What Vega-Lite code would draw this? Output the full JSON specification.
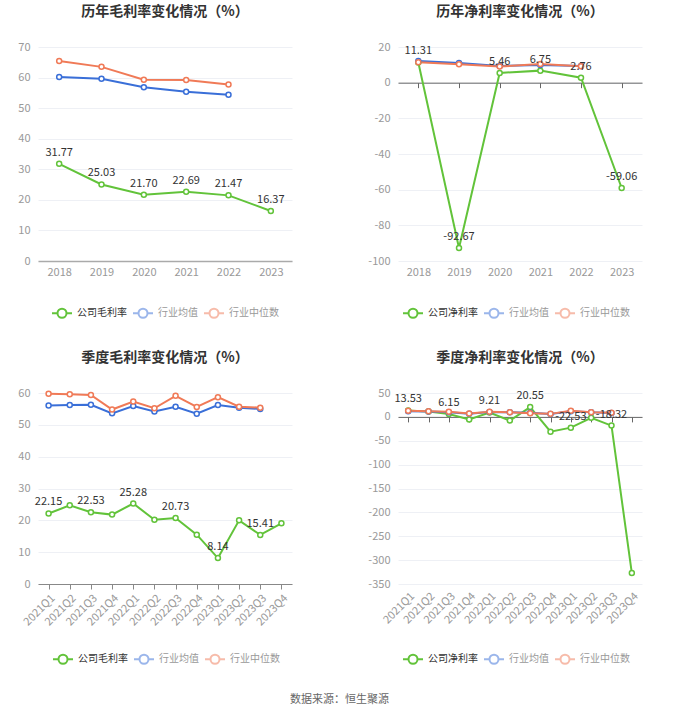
{
  "$schema": "https://vega.github.io/schema/vega-lite/v6.json",
  "padding": {"left": 17, "top": 5, "right": 5, "bottom": 5},
  "background": "white",
  "config": {
    "font": "Noto Sans CJK SC",
    "locale": {"number": {"decimal": ".", "thousands": ",", "grouping": [3], "currency": ["", ""], "minus": "-"}},
    "view": {"stroke": null},
    "axis": {"labelColor": "#999", "labelFontSize": 11, "labelFont": "Noto Sans CJK SC", "labelOverlap": false, "labelBound": false, "labelFlush": false},
    "axisY": {"labelOverlap": false},
    "axisQuantitative": {"labelOverlap": false},
    "title": {"fontSize": 14, "fontWeight": "bold", "color": "#333", "font": "Noto Sans CJK SC"},
    "legend": {"labelFont": "Noto Sans CJK SC"}
  },
  "datasets": {
    "annual_gross": [
      {"period": "2018", "series": "公司毛利率", "value": 31.77},
      {"period": "2019", "series": "公司毛利率", "value": 25.03},
      {"period": "2020", "series": "公司毛利率", "value": 21.70},
      {"period": "2021", "series": "公司毛利率", "value": 22.69},
      {"period": "2022", "series": "公司毛利率", "value": 21.47},
      {"period": "2023", "series": "公司毛利率", "value": 16.37},
      {"period": "2018", "series": "行业均值", "value": 60.2},
      {"period": "2019", "series": "行业均值", "value": 59.6},
      {"period": "2020", "series": "行业均值", "value": 56.8},
      {"period": "2021", "series": "行业均值", "value": 55.4},
      {"period": "2022", "series": "行业均值", "value": 54.4},
      {"period": "2018", "series": "行业中位数", "value": 65.4},
      {"period": "2019", "series": "行业中位数", "value": 63.5},
      {"period": "2020", "series": "行业中位数", "value": 59.3},
      {"period": "2021", "series": "行业中位数", "value": 59.2},
      {"period": "2022", "series": "行业中位数", "value": 57.7}
    ],
    "annual_net": [
      {"period": "2018", "series": "公司净利率", "value": 11.31},
      {"period": "2019", "series": "公司净利率", "value": -92.67},
      {"period": "2020", "series": "公司净利率", "value": 5.46},
      {"period": "2021", "series": "公司净利率", "value": 6.75},
      {"period": "2022", "series": "公司净利率", "value": 2.76},
      {"period": "2023", "series": "公司净利率", "value": -59.06},
      {"period": "2018", "series": "行业均值", "value": 12.1},
      {"period": "2019", "series": "行业均值", "value": 11.0},
      {"period": "2020", "series": "行业均值", "value": 9.3},
      {"period": "2021", "series": "行业均值", "value": 9.9},
      {"period": "2022", "series": "行业均值", "value": 9.3},
      {"period": "2018", "series": "行业中位数", "value": 11.4},
      {"period": "2019", "series": "行业中位数", "value": 10.3},
      {"period": "2020", "series": "行业中位数", "value": 9.0},
      {"period": "2021", "series": "行业中位数", "value": 10.5},
      {"period": "2022", "series": "行业中位数", "value": 9.2}
    ],
    "quarter_gross": [
      {"period": "2021Q1", "series": "公司毛利率", "value": 22.15},
      {"period": "2021Q2", "series": "公司毛利率", "value": 24.7},
      {"period": "2021Q3", "series": "公司毛利率", "value": 22.53},
      {"period": "2021Q4", "series": "公司毛利率", "value": 21.8},
      {"period": "2022Q1", "series": "公司毛利率", "value": 25.28},
      {"period": "2022Q2", "series": "公司毛利率", "value": 20.2},
      {"period": "2022Q3", "series": "公司毛利率", "value": 20.73},
      {"period": "2022Q4", "series": "公司毛利率", "value": 15.5},
      {"period": "2023Q1", "series": "公司毛利率", "value": 8.14},
      {"period": "2023Q2", "series": "公司毛利率", "value": 20.0},
      {"period": "2023Q3", "series": "公司毛利率", "value": 15.41},
      {"period": "2023Q4", "series": "公司毛利率", "value": 19.06},
      {"period": "2021Q1", "series": "行业均值", "value": 56.1},
      {"period": "2021Q2", "series": "行业均值", "value": 56.2},
      {"period": "2021Q3", "series": "行业均值", "value": 56.3},
      {"period": "2021Q4", "series": "行业均值", "value": 53.6},
      {"period": "2022Q1", "series": "行业均值", "value": 55.9},
      {"period": "2022Q2", "series": "行业均值", "value": 54.2},
      {"period": "2022Q3", "series": "行业均值", "value": 55.7},
      {"period": "2022Q4", "series": "行业均值", "value": 53.5},
      {"period": "2023Q1", "series": "行业均值", "value": 56.2},
      {"period": "2023Q2", "series": "行业均值", "value": 55.4},
      {"period": "2023Q3", "series": "行业均值", "value": 55.0},
      {"period": "2021Q1", "series": "行业中位数", "value": 59.8},
      {"period": "2021Q2", "series": "行业中位数", "value": 59.6},
      {"period": "2021Q3", "series": "行业中位数", "value": 59.4},
      {"period": "2021Q4", "series": "行业中位数", "value": 54.8},
      {"period": "2022Q1", "series": "行业中位数", "value": 57.3},
      {"period": "2022Q2", "series": "行业中位数", "value": 55.2},
      {"period": "2022Q3", "series": "行业中位数", "value": 59.1},
      {"period": "2022Q4", "series": "行业中位数", "value": 55.6},
      {"period": "2023Q1", "series": "行业中位数", "value": 58.7},
      {"period": "2023Q2", "series": "行业中位数", "value": 55.7},
      {"period": "2023Q3", "series": "行业中位数", "value": 55.4}
    ],
    "quarter_net": [
      {"period": "2021Q1", "series": "公司净利率", "value": 13.53},
      {"period": "2021Q2", "series": "公司净利率", "value": 11.0},
      {"period": "2021Q3", "series": "公司净利率", "value": 6.15},
      {"period": "2021Q4", "series": "公司净利率", "value": -5.6},
      {"period": "2022Q1", "series": "公司净利率", "value": 9.21},
      {"period": "2022Q2", "series": "公司净利率", "value": -7.7},
      {"period": "2022Q3", "series": "公司净利率", "value": 20.55},
      {"period": "2022Q4", "series": "公司净利率", "value": -31.0},
      {"period": "2023Q1", "series": "公司净利率", "value": -22.53},
      {"period": "2023Q2", "series": "公司净利率", "value": -2.0},
      {"period": "2023Q3", "series": "公司净利率", "value": -18.32},
      {"period": "2023Q4", "series": "公司净利率", "value": -327.0},
      {"period": "2021Q1", "series": "行业均值", "value": 12.0},
      {"period": "2021Q2", "series": "行业均值", "value": 11.0},
      {"period": "2021Q3", "series": "行业均值", "value": 9.5},
      {"period": "2021Q4", "series": "行业均值", "value": 6.5},
      {"period": "2022Q1", "series": "行业均值", "value": 10.0},
      {"period": "2022Q2", "series": "行业均值", "value": 9.5},
      {"period": "2022Q3", "series": "行业均值", "value": 8.5},
      {"period": "2022Q4", "series": "行业均值", "value": 6.0},
      {"period": "2023Q1", "series": "行业均值", "value": 12.0},
      {"period": "2023Q2", "series": "行业均值", "value": 9.5},
      {"period": "2023Q3", "series": "行业均值", "value": 8.0},
      {"period": "2021Q1", "series": "行业中位数", "value": 12.7},
      {"period": "2021Q2", "series": "行业中位数", "value": 12.0},
      {"period": "2021Q3", "series": "行业中位数", "value": 10.6},
      {"period": "2021Q4", "series": "行业中位数", "value": 7.0},
      {"period": "2022Q1", "series": "行业中位数", "value": 10.6},
      {"period": "2022Q2", "series": "行业中位数", "value": 9.9},
      {"period": "2022Q3", "series": "行业中位数", "value": 7.7},
      {"period": "2022Q4", "series": "行业中位数", "value": 6.3},
      {"period": "2023Q1", "series": "行业中位数", "value": 12.7},
      {"period": "2023Q2", "series": "行业中位数", "value": 9.9},
      {"period": "2023Q3", "series": "行业中位数", "value": 8.5}
    ]
  },
  "title": {"text": "数据来源：恒生聚源", "orient": "bottom", "anchor": "start", "frame": "group", "dx": 252, "fontSize": 11, "fontWeight": "normal", "color": "#666", "offset": 26},
  "bounds": "flush",
  "columns": 2,
  "spacing": {"row": 132, "column": 106},
  "resolve": {"scale": {"color": "independent"}, "legend": {"color": "independent"}},
  "concat": [
    {
      "width": 254, "height": 214,
      "title": {"text": "历年毛利率变化情况（%）", "offset": 22},
      "data": {"name": "annual_gross"},
      "layer": [
        {
          "mark": {"type": "line", "strokeWidth": 2, "point": {"filled": false, "fill": "white", "size": 25, "strokeWidth": 1.5}},
          "encoding": {
            "x": {"field": "period", "type": "ordinal", "axis": {"title": null, "labelAngle": 0, "domain": true, "domainColor": "#aaa", "domainWidth": 1.5, "ticks": false, "labelPadding": 5, "grid": false}},
            "y": {"field": "value", "type": "quantitative", "scale": {"domain": [0, 70], "nice": false}, "axis": {"title": null, "values": [0, 10, 20, 30, 40, 50, 60, 70], "labelOverlap": false, "grid": true, "gridColor": "#eef0f5", "domain": false, "ticks": false, "labelPadding": 8}},
            "color": {"field": "series", "type": "nominal", "scale": {"domain": ["公司毛利率", "行业均值", "行业中位数"], "range": ["#62c33a", "#3a6fd8", "#f07a57"]},
              "legend": {"title": null, "orient": "none", "legendX": 13, "legendY": 255, "direction": "horizontal", "symbolType": "M-1,0L-0.45,0M0.45,0L1,0M0.45,0A0.45,0.45,0,1,1,-0.45,0A0.45,0.45,0,1,1,0.45,0", "symbolSize": 400, "symbolStrokeWidth": 2, "labelFontSize": 10, "labelOffset": 4, "columnPadding": 2,
                "encode": {"symbols": {"update": {"opacity": {"signal": "datum.index === 0 ? 1 : 0.5"}}}, "labels": {"update": {"fill": {"signal": "datum.index === 0 ? '#333' : '#999'"}}}}}}
          }
        },
        {
          "transform": [{"filter": "datum.series === '公司毛利率'"}],
          "mark": {"type": "text", "dy": -11, "fontSize": 11, "color": "#333"},
          "encoding": {
            "x": {"field": "period", "type": "ordinal"},
            "y": {"field": "value", "type": "quantitative", "axis": {"title": null, "values": [0, 10, 20, 30, 40, 50, 60, 70], "labelOverlap": false, "grid": true, "gridColor": "#eef0f5", "domain": false, "ticks": false, "labelPadding": 8}},
            "text": {"field": "value", "type": "quantitative", "format": ".2f"}
          }
        }
      ]
    },
    {
      "width": 244, "height": 214,
      "title": {"text": "历年净利率变化情况（%）", "offset": 22},
      "data": {"name": "annual_net"},
      "resolve": {"axis": {"x": "independent"}},
      "layer": [
        {
          "mark": {"type": "line", "strokeWidth": 2, "point": {"filled": false, "fill": "white", "size": 25, "strokeWidth": 1.5}},
          "encoding": {
            "x": {"field": "period", "type": "ordinal", "axis": {"title": null, "orient": "bottom", "labelAngle": 0, "domain": false, "ticks": false, "labelPadding": 5, "grid": false}},
            "y": {"field": "value", "type": "quantitative", "scale": {"domain": [-100, 20], "nice": false}, "axis": {"title": null, "values": [-100, -80, -60, -40, -20, 0, 20], "labelOverlap": false, "grid": true, "gridColor": "#eef0f5", "domain": false, "ticks": false, "labelPadding": 8}},
            "color": {"field": "series", "type": "nominal", "scale": {"domain": ["公司净利率", "行业均值", "行业中位数"], "range": ["#62c33a", "#3a6fd8", "#f07a57"]},
              "legend": {"title": null, "orient": "none", "legendX": 4, "legendY": 255, "direction": "horizontal", "symbolType": "M-1,0L-0.45,0M0.45,0L1,0M0.45,0A0.45,0.45,0,1,1,-0.45,0A0.45,0.45,0,1,1,0.45,0", "symbolSize": 400, "symbolStrokeWidth": 2, "labelFontSize": 10, "labelOffset": 4, "columnPadding": 2,
                "encode": {"symbols": {"update": {"opacity": {"signal": "datum.index === 0 ? 1 : 0.5"}}}, "labels": {"update": {"fill": {"signal": "datum.index === 0 ? '#333' : '#999'"}}}}}}
          }
        },
        {
          "transform": [{"filter": "datum.series === '公司净利率'"}],
          "mark": {"type": "text", "dy": -11, "fontSize": 11, "color": "#333"},
          "encoding": {
            "x": {"field": "period", "type": "ordinal", "axis": {"title": null, "orient": "bottom", "labels": false, "domain": true, "domainColor": "#666", "ticks": true, "tickColor": "#666", "tickSize": 5, "grid": false, "offset": -178.33}},
            "y": {"field": "value", "type": "quantitative", "axis": {"title": null, "values": [-100, -80, -60, -40, -20, 0, 20], "labelOverlap": false, "grid": true, "gridColor": "#eef0f5", "domain": false, "ticks": false, "labelPadding": 8}},
            "text": {"field": "value", "type": "quantitative", "format": ".2f"}
          }
        }
      ]
    },
    {
      "width": 254, "height": 191,
      "title": {"text": "季度毛利率变化情况（%）", "offset": 22},
      "data": {"name": "quarter_gross"},
      "layer": [
        {
          "mark": {"type": "line", "strokeWidth": 2, "point": {"filled": false, "fill": "white", "size": 25, "strokeWidth": 1.5}},
          "encoding": {
            "x": {"field": "period", "type": "ordinal", "axis": {"title": null, "labelAngle": -45, "domain": true, "domainColor": "#888", "ticks": true, "tickColor": "#888", "tickSize": 5, "labelPadding": 3, "grid": false}},
            "y": {"field": "value", "type": "quantitative", "scale": {"domain": [0, 60], "nice": false}, "axis": {"title": null, "values": [0, 10, 20, 30, 40, 50, 60], "labelOverlap": false, "grid": true, "gridColor": "#eef0f5", "domain": false, "ticks": false, "labelPadding": 8}},
            "color": {"field": "series", "type": "nominal", "scale": {"domain": ["公司毛利率", "行业均值", "行业中位数"], "range": ["#62c33a", "#3a6fd8", "#f07a57"]},
              "legend": {"title": null, "orient": "none", "legendX": 14, "legendY": 255, "direction": "horizontal", "symbolType": "M-1,0L-0.45,0M0.45,0L1,0M0.45,0A0.45,0.45,0,1,1,-0.45,0A0.45,0.45,0,1,1,0.45,0", "symbolSize": 400, "symbolStrokeWidth": 2, "labelFontSize": 10, "labelOffset": 4, "columnPadding": 2,
                "encode": {"symbols": {"update": {"opacity": {"signal": "datum.index === 0 ? 1 : 0.5"}}}, "labels": {"update": {"fill": {"signal": "datum.index === 0 ? '#333' : '#999'"}}}}}}
          }
        },
        {
          "transform": [{"filter": {"field": "series", "equal": "公司毛利率"}}, {"filter": {"field": "period", "oneOf": ["2021Q1", "2021Q3", "2022Q1", "2022Q3", "2023Q1", "2023Q3"]}}],
          "mark": {"type": "text", "dy": -11, "fontSize": 11, "color": "#333"},
          "encoding": {
            "x": {"field": "period", "type": "ordinal"},
            "y": {"field": "value", "type": "quantitative", "axis": {"title": null, "values": [0, 10, 20, 30, 40, 50, 60], "labelOverlap": false, "grid": true, "gridColor": "#eef0f5", "domain": false, "ticks": false, "labelPadding": 8}},
            "text": {"field": "value", "type": "quantitative", "format": ".2f"}
          }
        }
      ]
    },
    {
      "width": 244, "height": 191,
      "title": {"text": "季度净利率变化情况（%）", "offset": 22},
      "data": {"name": "quarter_net"},
      "resolve": {"axis": {"x": "independent"}},
      "layer": [
        {
          "mark": {"type": "line", "strokeWidth": 2, "point": {"filled": false, "fill": "white", "size": 25, "strokeWidth": 1.5}},
          "encoding": {
            "x": {"field": "period", "type": "ordinal", "axis": {"title": null, "orient": "bottom", "labelAngle": -45, "domain": false, "ticks": false, "labelPadding": 6, "grid": false}},
            "y": {"field": "value", "type": "quantitative", "scale": {"domain": [-350, 50], "nice": false}, "axis": {"title": null, "values": [-350, -300, -250, -200, -150, -100, -50, 0, 50], "labelOverlap": false, "grid": true, "gridColor": "#eef0f5", "domain": false, "ticks": false, "labelPadding": 8}},
            "color": {"field": "series", "type": "nominal", "scale": {"domain": ["公司净利率", "行业均值", "行业中位数"], "range": ["#62c33a", "#3a6fd8", "#f07a57"]},
              "legend": {"title": null, "orient": "none", "legendX": 4, "legendY": 255, "direction": "horizontal", "symbolType": "M-1,0L-0.45,0M0.45,0L1,0M0.45,0A0.45,0.45,0,1,1,-0.45,0A0.45,0.45,0,1,1,0.45,0", "symbolSize": 400, "symbolStrokeWidth": 2, "labelFontSize": 10, "labelOffset": 4, "columnPadding": 2,
                "encode": {"symbols": {"update": {"opacity": {"signal": "datum.index === 0 ? 1 : 0.5"}}}, "labels": {"update": {"fill": {"signal": "datum.index === 0 ? '#333' : '#999'"}}}}}}
          }
        },
        {
          "transform": [{"filter": {"field": "series", "equal": "公司净利率"}}, {"filter": {"field": "period", "oneOf": ["2021Q1", "2021Q3", "2022Q1", "2022Q3", "2023Q1", "2023Q3"]}}],
          "mark": {"type": "text", "dy": -11, "fontSize": 11, "color": "#333"},
          "encoding": {
            "x": {"field": "period", "type": "ordinal", "axis": {"title": null, "orient": "bottom", "labels": false, "domain": true, "domainColor": "#666", "ticks": true, "tickColor": "#666", "tickSize": 5, "grid": false, "offset": -167.1}},
            "y": {"field": "value", "type": "quantitative", "axis": {"title": null, "values": [-350, -300, -250, -200, -150, -100, -50, 0, 50], "labelOverlap": false, "grid": true, "gridColor": "#eef0f5", "domain": false, "ticks": false, "labelPadding": 8}},
            "text": {"field": "value", "type": "quantitative", "format": ".2f"}
          }
        }
      ]
    }
  ]
}
